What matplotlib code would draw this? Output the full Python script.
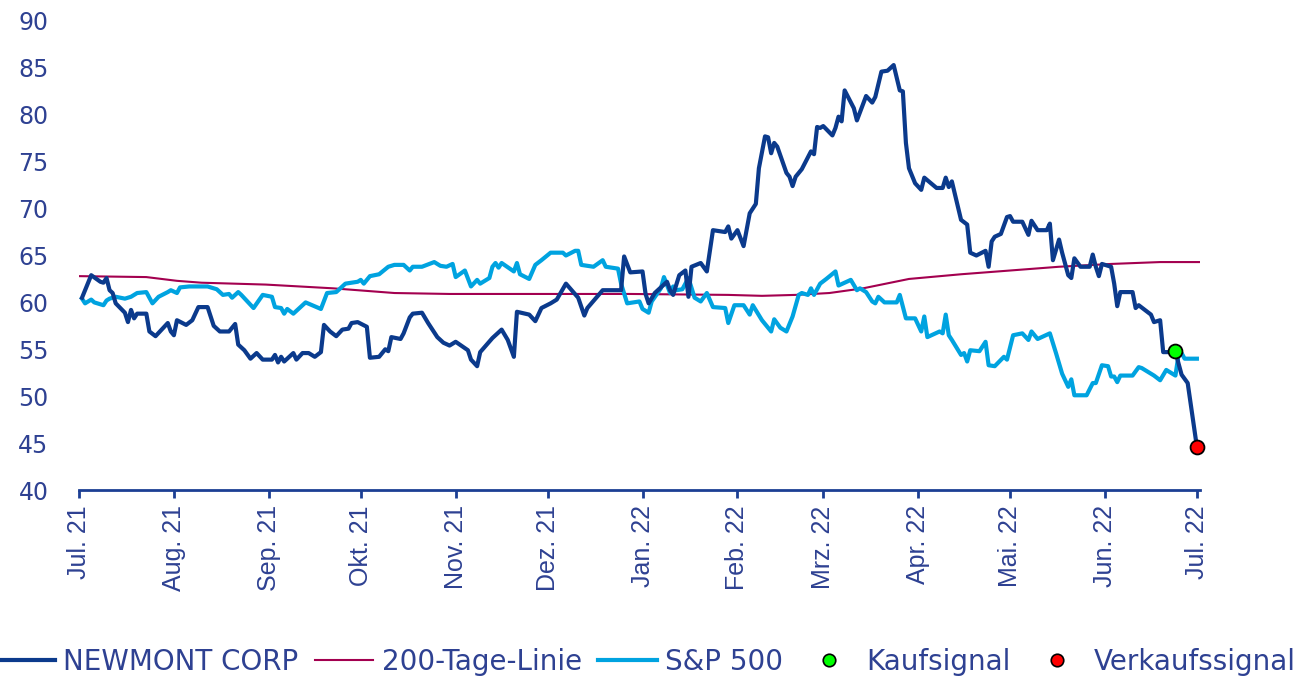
"""
plot.py
Newmont Corp vs. S&P 500 with 200-day line, buy / sell signal (Jul 2021 - Jul 2022).
"""

import matplotlib
matplotlib.use("Agg")

import matplotlib.pyplot as plt
import numpy as np
from matplotlib.lines import Line2D


# ── Data (day offset from 2021-07-01, value) ─────────────────────────────────
START = np.datetime64("2021-07-01")

nem_day = [1, 4, 7, 8, 9, 10, 11, 12, 15, 16, 17, 18, 19, 22, 23, 25, 29, 30, 31, 32,
           35, 37, 39, 42, 44, 46, 49, 51, 52, 54, 56, 58, 60, 63, 64, 65, 66, 67, 70, 71,
           73, 75, 77, 79, 80, 82, 84, 86, 88, 89, 91, 94, 95, 98, 100, 101, 102, 105, 106, 108,
           109, 112, 114, 117, 119, 121, 123, 127, 128, 130, 131, 135, 138, 140, 142, 143, 147, 149, 151, 154,
           156, 159, 163, 165, 166, 171, 177, 178, 180, 184, 185, 186, 188, 192, 193, 194, 196, 198, 199, 200,
           203, 205, 207, 211, 212, 213, 215, 217, 219, 221, 222, 224, 225, 226, 227, 228, 231, 232, 233, 234,
           236, 239, 240, 241, 242, 243, 246, 247, 248, 249, 250, 253, 254, 257, 259, 260, 262, 264, 266, 268,
           269, 270, 271, 273, 275, 276, 280, 282, 283, 284, 285, 288, 290, 291, 293, 296, 297, 298, 299, 301,
           303, 304, 305, 308, 310, 311, 313, 316, 317, 318, 320, 321, 323, 324, 325, 327, 330, 331, 332, 333,
           334, 337, 338, 339, 340, 344, 345, 346, 350, 351, 353, 354, 357, 358, 359, 360, 362, 365]
nem_val = [60.5, 62.9, 62.2, 62.1, 62.6, 61.3, 61.0, 59.9, 58.9, 57.9, 59.2, 58.3, 58.8, 58.8, 56.9, 56.4, 57.8, 56.9, 56.5, 58.1,
           57.6, 58.1, 59.5, 59.5, 57.5, 56.9, 56.9, 57.7, 55.5, 54.9, 54.0, 54.6, 53.9, 53.9, 54.4, 53.6, 54.2, 53.7, 54.6, 53.9,
           54.6, 54.6, 54.2, 54.7, 57.6, 56.9, 56.4, 57.1, 57.2, 57.8, 57.9, 57.4, 54.1, 54.2, 55.0, 54.8, 56.3, 56.1, 56.7, 58.4,
           58.8, 58.9, 57.8, 56.3, 55.7, 55.4, 55.8, 54.9, 53.9, 53.2, 54.7, 56.2, 57.1, 56.0, 54.2, 59.0, 58.7, 58.0, 59.4, 59.9,
           60.3, 62.0, 60.5, 58.6, 59.4, 61.3, 61.3, 64.9, 63.2, 63.3, 60.9, 59.9, 61.0, 62.2, 61.3, 60.8, 62.9, 63.4, 60.6, 63.8,
           64.2, 63.3, 67.7, 67.5, 68.1, 66.8, 67.7, 66.0, 69.5, 70.5, 74.3, 77.7, 77.6, 75.9, 77.0, 76.6, 73.8, 73.4, 72.4, 73.4,
           74.2, 76.1, 75.8, 78.7, 78.6, 78.8, 77.8, 78.6, 79.8, 79.3, 82.6, 80.7, 79.4, 82.0, 81.3, 81.9, 84.6, 84.7, 85.3, 82.6,
           82.5, 77.0, 74.3, 72.7, 72.0, 73.3, 72.2, 72.2, 73.3, 72.3, 72.9, 68.8, 68.3, 65.3, 65.0, 65.5, 63.8, 66.5, 67.0, 67.3,
           69.1, 69.2, 68.6, 68.6, 67.2, 68.7, 67.7, 67.7, 68.4, 64.5, 66.7, 65.3, 62.9, 62.6, 64.7, 63.8, 63.8, 65.1, 63.8, 62.8,
           64.1, 63.8, 62.0, 59.6, 61.1, 61.1, 59.4, 59.7, 58.7, 57.9, 58.1, 54.7, 54.7, 54.8, 53.5, 52.3, 51.4, 44.6]

spx_day = [1, 2, 4, 5, 8, 9, 10, 12, 15, 17, 19, 22, 24, 26, 29, 30, 32, 33, 36, 42,
           45, 47, 49, 50, 52, 53, 57, 60, 63, 64, 66, 67, 68, 70, 74, 79, 81, 84, 87, 91,
           92, 93, 95, 98, 101, 103, 106, 108, 109, 112, 116, 118, 120, 122, 123, 126, 128, 130, 131, 134,
           135, 136, 137, 138, 142, 143, 144, 147, 149, 151, 154, 158, 159, 162, 163, 164, 168, 171, 172, 176,
           177, 179, 183, 184, 186, 187, 190, 191, 193, 194, 195, 197, 199, 201, 203, 205, 207, 211, 212, 214,
           217, 219, 220, 223, 226, 227, 229, 231, 233, 235, 236, 238, 239, 240, 242, 244, 247, 248, 252, 254,
           255, 257, 259, 260, 261, 263, 267, 268, 270, 273, 275, 276, 277, 281, 282, 283, 284, 285, 288, 289,
           290, 291, 294, 296, 297, 299, 302, 303, 305, 308, 310, 311, 313, 317, 319, 321, 323, 324, 325, 329,
           331, 332, 334, 336, 337, 338, 339, 340, 344, 346, 347, 351, 353, 355, 358, 359, 360, 361, 365]
spx_val = [60.4, 59.9, 60.3, 60.0, 59.7, 60.2, 60.4, 60.6, 60.4, 60.6, 61.0, 61.1, 59.9, 60.6, 61.1, 61.3, 61.0, 61.6, 61.7, 61.7,
           61.4, 60.8, 60.9, 60.5, 61.1, 60.8, 59.4, 60.8, 60.6, 59.5, 59.4, 58.8, 59.3, 58.8, 60.0, 59.3, 61.0, 61.1, 62.0, 62.2,
           62.4, 62.0, 62.8, 63.0, 63.8, 64.0, 64.0, 63.4, 63.8, 63.8, 64.3, 63.9, 63.8, 64.1, 62.7, 63.4, 61.7, 62.4, 62.0, 62.6,
           63.8, 64.2, 63.7, 64.2, 63.3, 64.2, 63.0, 62.5, 64.0, 64.5, 65.3, 65.3, 65.0, 65.5, 65.5, 64.0, 63.8, 64.5, 63.8, 63.6,
           62.0, 59.9, 60.1, 59.3, 58.9, 60.1, 61.5, 62.7, 61.0, 61.7, 61.3, 61.4, 62.6, 60.5, 60.1, 61.0, 59.5, 59.4, 57.8, 59.7,
           59.7, 58.7, 59.7, 58.1, 56.9, 58.2, 57.3, 56.9, 58.5, 60.8, 61.0, 60.8, 61.5, 60.8, 62.0, 62.5, 63.3, 61.8, 62.4, 61.3,
           61.5, 61.1, 60.1, 59.9, 60.6, 60.0, 60.0, 60.8, 58.3, 58.3, 56.9, 58.5, 56.3, 56.9, 56.7, 58.7, 56.5, 56.0, 54.4, 54.6,
           53.7, 54.9, 54.8, 55.8, 53.3, 53.2, 54.2, 53.9, 56.5, 56.7, 56.0, 56.9, 56.1, 56.7, 54.6, 52.4, 51.0, 51.8, 50.1, 50.1,
           51.4, 51.4, 53.3, 53.2, 52.1, 52.1, 51.5, 52.2, 52.2, 53.1, 53.0, 52.2, 51.7, 52.8, 52.2, 54.4, 54.6, 54.0, 54.0]

ma200_day = [0, 22, 32, 40, 61, 83, 103, 121, 180, 212, 223, 234, 245, 256, 262, 271, 288, 304, 320, 337, 353, 366]
ma200_val = [62.8, 62.7, 62.3, 62.1, 61.9, 61.5, 61.0, 60.9, 60.9, 60.8, 60.7, 60.8, 61.0, 61.5, 61.9, 62.5, 63.0, 63.4, 63.8, 64.1, 64.3, 64.3]

buy_day, buy_val = [358], [54.8]
sell_day, sell_val = [365], [44.6]

month_labels = ["Jul. 21", "Aug. 21", "Sep. 21", "Okt. 21", "Nov. 21", "Dez. 21", "Jan. 22",
                "Feb. 22", "Mrz. 22", "Apr. 22", "Mai. 22", "Jun. 22", "Jul. 22"]

legend_labels = ["NEWMONT CORP", "200-Tage-Linie", "S&P 500", "Kaufsignal", "Verkaufssignal"]

# ── Palette ───────────────────────────────────────────────────────────────────
COLORS = {
    "newmont": "#0B3A8C",
    "spx":     "#00A3E0",
    "ma200":   "#A3004F",
    "text":    "#2E4192",
    "axis":    "#1C3F94",
}


def to_dates(days):
    return START + np.array(days, dtype="timedelta64[D]")


def main():
    fig = plt.figure(figsize=(13.05, 6.77), dpi=100)
    ax = fig.add_axes([0.0605, 0.2762, 0.859, 0.6928])

    ax.plot(to_dates(ma200_day), ma200_val, color=COLORS["ma200"], lw=1.5, zorder=2)
    ax.plot(to_dates(spx_day), spx_val, color=COLORS["spx"], lw=3.0, zorder=3)
    ax.plot(to_dates(nem_day), nem_val, color=COLORS["newmont"], lw=3.0, zorder=4)
    ax.plot(to_dates(buy_day), buy_val, "o", ms=10, mfc="#00FF00", mec="black", mew=1.3,
            zorder=5, clip_on=False)
    ax.plot(to_dates(sell_day), sell_val, "o", ms=10, mfc="#FF0000", mec="black", mew=1.3,
            zorder=5, clip_on=False)

    ax.set_ylim(40, 90)
    ax.set_yticks(range(40, 91, 5))
    ax.set_xlim(to_dates([0])[0], to_dates([366])[0])
    ticks = np.arange(np.datetime64("2021-07"), np.datetime64("2022-08"), dtype="datetime64[M]").astype("datetime64[D]")
    ax.set_xticks(ticks)
    ax.set_xticklabels(month_labels, rotation=90, family="Liberation Sans", fontsize=18, color=COLORS["text"])

    for side in ("top", "right", "left"):
        ax.spines[side].set_visible(False)
    ax.spines["bottom"].set_color(COLORS["axis"])
    ax.spines["bottom"].set_linewidth(2)
    ax.tick_params(axis="x", direction="out", length=6, width=2, color=COLORS["axis"], pad=5)
    ax.tick_params(axis="y", length=0, pad=22, labelsize=17, labelcolor=COLORS["text"])
    for lbl in ax.get_yticklabels():
        lbl.set_family("DejaVu Sans")

    handles = [
        Line2D([], [], color=COLORS["newmont"], lw=3),
        Line2D([], [], color=COLORS["ma200"], lw=1.5),
        Line2D([], [], color=COLORS["spx"], lw=3),
        Line2D([], [], ls="none", marker="o", ms=9, mfc="#00FF00", mec="black", mew=1.2),
        Line2D([], [], ls="none", marker="o", ms=9, mfc="#FF0000", mec="black", mew=1.2),
    ]
    leg = fig.legend(handles, legend_labels, loc="center left", bbox_to_anchor=(-0.022, 0.022), ncol=5,
                     frameon=False, handlelength=2.1, handletextpad=0.3, columnspacing=0.6,
                     prop={"family": "DejaVu Sans", "size": 20})
    for t in leg.get_texts():
        t.set_color(COLORS["text"])

    fig.savefig("out.png", dpi=100)
    plt.close(fig)


if __name__ == "__main__":
    main()
